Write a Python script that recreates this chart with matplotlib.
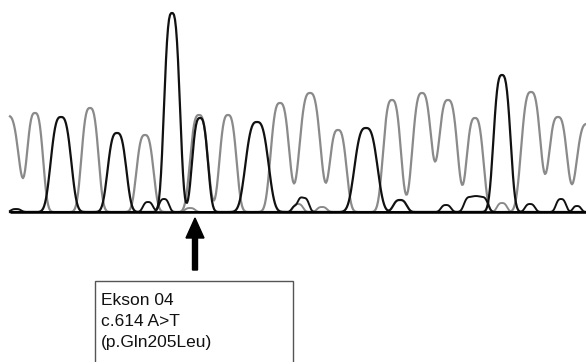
import matplotlib
matplotlib.use("Agg")
import matplotlib.pyplot as plt
import numpy as np
from matplotlib.patches import Rectangle

# peak tables (x position, height above baseline, half-width)
gray_pos = [8, 35, 90, 145, 199, 228, 280, 310, 338, 392, 422, 448, 475, 531, 558, 587]
gray_h = [96, 99, 104, 77, 97, 97, 109, 119, 82, 112, 119, 112, 94, 120, 95, 88]
gray_w = [13, 9.5, 10, 10, 10.5, 10, 11, 12.5, 10, 10.5, 11.3, 11.3, 10, 11.5, 11, 12.5]

black_pos = [61, 117, 172, 200, 257, 366, 400, 502]
black_h = [95, 79, 199, 94, 90, 84, 12, 137]
black_w = [12, 11, 9.3, 9.3, 13.5, 13.5, 8, 10]

# low background peaks near the baseline
noise_black_pos = [16, 148, 164, 296, 304, 446, 470, 482, 530, 561, 577]
noise_black_h = [3, 10, 13, 6, 14, 7, 15, 15, 8, 13, 6]
noise_black_w = [6, 6, 6, 5, 6, 6, 7, 7, 6, 6, 5]

noise_gray_pos = [190, 298, 322, 502]
noise_gray_h = [4, 8, 5, 9]
noise_gray_w = [6, 6, 6, 6]

label_lines = ["Ekson 04", "c.614 A>T", "(p.Gln205Leu)"]
mutation_pos = 195

x_start, x_end = 10, 586
BASE = 212  # baseline, pixels from top


def trace(x, pos, heights, widths, shape=3.0):
    y = np.zeros_like(x)
    for p, h, w in zip(pos, heights, widths):
        y += h * np.exp(-np.abs((x - p) / w) ** shape)
    return y


x = np.arange(x_start, x_end + 1, 1.0)

fig = plt.figure(figsize=(5.86, 3.62), dpi=100)
ax = fig.add_axes([0, 0, 1, 1])
ax.set_xlim(0, 586)
ax.set_ylim(-(362 - BASE), BASE)
ax.axis("off")

gray = "#8a8a8a"
ax.plot(x, trace(x, noise_gray_pos, noise_gray_h, noise_gray_w), color=gray, lw=1.4)
ax.plot(x, trace(x, gray_pos, gray_h, gray_w), color=gray, lw=1.6)
ax.plot(x, trace(x, noise_black_pos, noise_black_h, noise_black_w), color="#111111", lw=1.4)
ax.plot(x, trace(x, black_pos, black_h, black_w), color="#111111", lw=1.6)
ax.plot([x_start, x_end], [0, 0], color="black", lw=1.8, solid_capstyle="butt")

# arrow pointing at the variant
ax.arrow(mutation_pos, -58, 0, 52, width=5, head_width=18, head_length=20,
         length_includes_head=True, color="black")

# annotation box
ax.add_patch(Rectangle((95, -170), 198, 101, fill=False, edgecolor="#555555", lw=1.0))
for i, line in enumerate(label_lines):
    ax.text(101, -93 - 21 * i, line, family="Liberation Sans", fontsize=12.5,
            va="baseline", ha="left", color="#111111")

fig.savefig("out.png", dpi=100)
